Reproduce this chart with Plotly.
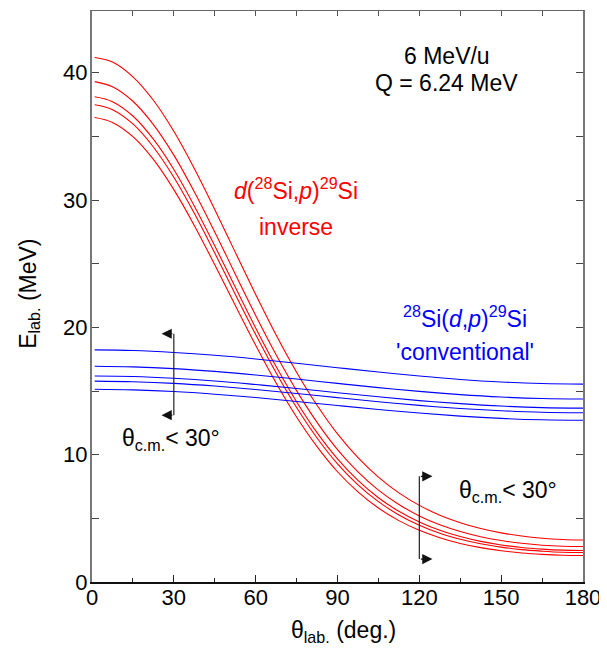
import plotly.graph_objects as go

# Lab angles (deg) for the inverse-kinematics curves
theta_inv = [1, 7.5, 15, 22.5, 30, 37.5, 45, 52.5, 60, 67.5, 75, 82.5, 90,
             97.5, 105, 112.5, 120, 127.5, 135, 142.5, 150, 157.5, 165, 172.5, 180]

# d(28Si,p)29Si inverse kinematics, proton lab energies (MeV), 5 states
red_1 = [41.20, 40.84, 39.68, 37.84, 35.40, 32.48, 29.26, 25.91, 22.58, 19.40, 16.48, 13.88, 11.63,
         9.77, 8.24, 7.00, 6.02, 5.25, 4.66, 4.20, 3.86, 3.61, 3.44, 3.34, 3.30]
red_2 = [39.30, 38.90, 37.76, 35.93, 33.53, 30.65, 27.49, 24.20, 20.94, 17.85, 15.03, 12.54, 10.40,
         8.65, 7.22, 6.09, 5.19, 4.50, 3.97, 3.56, 3.26, 3.04, 2.89, 2.81, 2.79]
red_3 = [38.12, 37.73, 36.60, 34.78, 32.40, 29.54, 26.41, 23.17, 19.96, 16.92, 14.16, 11.73, 9.67,
         7.98, 6.62, 5.55, 4.71, 4.06, 3.57, 3.19, 2.91, 2.71, 2.58, 2.50, 2.48]
red_4 = [37.48, 37.10, 35.98, 34.17, 31.79, 28.96, 25.84, 22.61, 19.44, 16.43, 13.70, 11.31, 9.28,
         7.63, 6.31, 5.27, 4.46, 3.83, 3.36, 3.00, 2.74, 2.54, 2.42, 2.34, 2.32]
red_5 = [36.49, 36.10, 34.98, 33.19, 30.82, 28.01, 24.92, 21.73, 18.59, 15.63, 12.96, 10.63, 8.66,
         7.08, 5.81, 4.82, 4.06, 3.48, 3.03, 2.70, 2.46, 2.28, 2.17, 2.10, 2.08]

# Lab angles (deg) for the conventional-kinematics curves
theta_conv = [1, 15, 30, 45, 60, 75, 90, 105, 120, 135, 150, 165, 180]

# 28Si(d,p)29Si conventional kinematics
blue_1 = [18.23, 18.18, 18.03, 17.81, 17.52, 17.18, 16.83, 16.49, 16.18, 15.91, 15.71, 15.59, 15.54]
blue_2 = [16.95, 16.90, 16.76, 16.54, 16.26, 15.94, 15.60, 15.27, 14.97, 14.72, 14.53, 14.41, 14.37]
blue_3 = [16.18, 16.14, 16.00, 15.79, 15.51, 15.20, 14.87, 14.55, 14.25, 14.01, 13.82, 13.70, 13.66]
blue_4 = [15.78, 15.73, 15.60, 15.39, 15.12, 14.81, 14.48, 14.16, 13.87, 13.63, 13.45, 13.33, 13.29]
blue_5 = [15.14, 15.09, 14.96, 14.75, 14.49, 14.18, 13.86, 13.55, 13.27, 13.03, 12.85, 12.74, 12.70]

# theta_cm < 30 deg brackets: (angle, E_low, E_high, arrow tip angle)
bracket_conv = [30, 13.1, 19.5, 25.5]
bracket_inv = [120, 1.8, 8.3, 124.8]

x_ticks = [0, 30, 60, 90, 120, 150, 180]
y_ticks = [0, 10, 20, 30, 40]

FONT = "Liberation Sans, Arial, Helvetica, sans-serif"

fig = go.Figure()
for ys in [red_1, red_2, red_3, red_4, red_5]:
    fig.add_trace(go.Scatter(x=theta_inv, y=ys, mode="lines",
                             line=dict(color="#ff0000", width=1.1, shape="spline"),
                             showlegend=False, hoverinfo="skip"))
for ys in [blue_1, blue_2, blue_3, blue_4, blue_5]:
    fig.add_trace(go.Scatter(x=theta_conv, y=ys, mode="lines",
                             line=dict(color="#0000ff", width=1.1, shape="spline"),
                             showlegend=False, hoverinfo="skip"))

for b in [bracket_conv, bracket_inv]:
    fig.add_trace(go.Scatter(x=[b[0], b[0]], y=[b[1], b[2]], mode="lines",
                             line=dict(color="#222", width=1.2),
                             showlegend=False, hoverinfo="skip"))

annotations = []
for b in [bracket_conv, bracket_inv]:
    for yv in [b[1], b[2]]:
        annotations.append(dict(x=b[3], y=yv, ax=b[0], ay=yv, xref="x", yref="y",
                                axref="x", ayref="y", text="", showarrow=True,
                                arrowhead=2, arrowsize=1.7, arrowwidth=1.2,
                                arrowcolor="#111"))

def txt(x, y, s, color="black", size=23, **kw):
    d = dict(x=x, y=y, xref="x", yref="y", text=s, showarrow=False,
             xanchor="center", yanchor="middle",
             font=dict(family=FONT, size=size, color=color))
    d.update(kw)
    annotations.append(d)

txt(130.1, 41.3, "6 MeV/u")
txt(130.1, 39.2, "Q = 6.24 MeV")
txt(74.8, 30.9, "<i>d</i>(<sup>28</sup>Si,<i>p</i>)<sup>29</sup>Si", color="#ff0000")
txt(74.8, 27.9, "inverse", color="#ff0000")
txt(136.7, 20.8, "<sup>28</sup>Si(<i>d</i>,<i>p</i>)<sup>29</sup>Si", color="#0000ff")
txt(136.7, 18.1, "'conventional'", color="#0000ff")
txt(29.0, 11.2, "θ<sub>c.m.</sub>< 30°")
txt(152.5, 7.1, "θ<sub>c.m.</sub>< 30°")

annotations.append(dict(x=-0.128, y=0.505, xref="paper", yref="paper",
                        xanchor="center", yanchor="middle",
                        text="E<sub>lab.</sub> (MeV)", textangle=-90, showarrow=False,
                        font=dict(family=FONT, size=23, color="black")))
annotations.append(dict(x=0.513, y=-0.087, xref="paper", yref="paper",
                        xanchor="center", yanchor="middle",
                        text="θ<sub>lab.</sub> (deg.)", showarrow=False,
                        font=dict(family=FONT, size=23, color="black")))

# page body has an 8px margin, so the figure is shrunk by 8px to fit the window
fig.update_layout(
    width=599, height=640,
    margin=dict(l=84, r=24, t=3, b=66, autoexpand=False),
    plot_bgcolor="white", paper_bgcolor="white",
    font=dict(family=FONT, size=22, color="black"),
    annotations=annotations,
    xaxis=dict(range=[0, 180], tickvals=x_ticks, ticks="inside", ticklen=7,
               tickwidth=1.2, tickcolor="#222", showline=True, linecolor="#111",
               linewidth=1.5, showgrid=False, zeroline=False, automargin=False,
               ticklabelstandoff=-5,
               minor=dict(dtick=15, ticks="inside", ticklen=4, tickcolor="#222"),
               tickfont=dict(size=22)),
    xaxis2=dict(range=[0, 180], overlaying="x", side="top", tickvals=x_ticks,
                ticks="inside", ticklen=5, tickcolor="#555", showline=True,
                linecolor="#666", linewidth=1.2, showgrid=False, zeroline=False,
                showticklabels=False, automargin=False,
                minor=dict(dtick=15, ticks="inside", ticklen=5, tickcolor="#555")),
    yaxis=dict(range=[0, 44.85], tickvals=y_ticks, ticks="inside", ticklen=7,
               tickwidth=1.2, tickcolor="#444", showline=True, linecolor="#777",
               linewidth=2, mirror="allticks", showgrid=False, zeroline=False,
               automargin=False, ticklabelstandoff=-2,
               minor=dict(dtick=5, ticks="inside", ticklen=4, tickcolor="#444"),
               tickfont=dict(size=22)),
)
fig.add_trace(go.Scatter(x=[None], y=[None], xaxis="x2", showlegend=False))

fig.write_html("out.html")
